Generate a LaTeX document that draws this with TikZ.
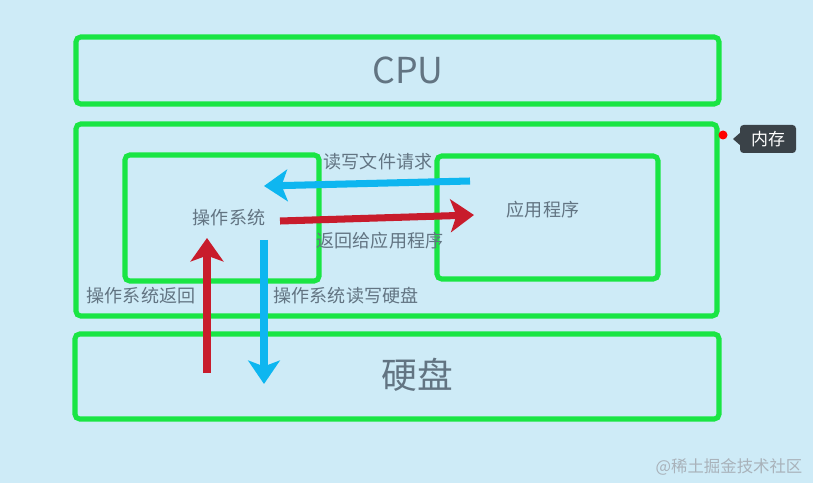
\documentclass[tikz,border=0pt]{standalone}
\usepackage{fontspec}
\setmainfont{Noto Sans CJK SC}
\usetikzlibrary{arrows.meta}
\definecolor{bgblue}{RGB}{206,235,247}
\definecolor{boxgreen}{RGB}{26,229,68}
\definecolor{txtgray}{RGB}{98,116,130}
\definecolor{arrblue}{RGB}{14,182,240}
\definecolor{arrred}{RGB}{200,28,44}
\definecolor{tipdark}{RGB}{58,66,72}
\tikzset{
  box/.style={draw=boxgreen, line width=4.3pt, rounded corners=4pt},
  lbl/.style={text=txtgray, font=\fontsize{15.4}{18}\selectfont, inner sep=0pt},
  big/.style={text=txtgray, font=\fontsize{30.5}{34}\selectfont, inner sep=0pt},
  bluearr/.style={draw=arrblue, line width=6pt, -{Stealth[length=20pt,width=27pt,inset=5pt]}},
  redarr/.style={draw=arrred, line width=6pt, -{Stealth[length=20pt,width=28pt,inset=5pt]}}
}

\begin{document}
\begin{tikzpicture}[x=0.03cm,y=-0.03cm]
			%%%%% START %%%%%
			
			\fill[bgblue] (0,0) rectangle (813,483);
			\useasboundingbox (0,0) rectangle (813,483);
			
			% cpu, memory, disk
			\draw[box] (76,37) rectangle (719,104);
			\node[big] (cpu) at (408,70) {CPU};
			
			\draw[box] (76,124) rectangle (717,316);
			\draw[box] (125,155) rectangle (319,281);
			\draw[box] (437,156) rectangle (658,279);
			
			\draw[box] (75,334) rectangle (719,419);
			\node[big] (disk) at (417,375) {硬盘};
			
			% memory tip
			\fill[red] (723,135) circle (4.5);
			\fill[tipdark, rounded corners=3pt] (740,125) rectangle (796,153);
			\fill[tipdark] (733,139) -- (741,132) -- (741,146) -- cycle;
			\node[lbl, text=white, font=\fontsize{14.5}{16}\selectfont] (mem) at (768,139) {内存};
			
			% labels
			\node[lbl] (os) at (229,218) {操作系统};
			\node[lbl] (app) at (543,210) {应用程序};
			\node[lbl] (req) at (378,162) {读写文件请求};
			\node[lbl] (ret) at (380,241) {返回给应用程序};
			\node[lbl] (osret) at (141,296) {操作系统返回};
			\node[lbl] (osrw) at (346,296) {操作系统读写硬盘};
			
			% arrow ends
			\coordinate (reqA) at (470,181);
			\coordinate (reqB) at (264,186);
			\coordinate (retA) at (280,221);
			\coordinate (retB) at (474,215);
			\coordinate (upA) at (207,373);
			\coordinate (upB) at (207,238);
			\coordinate (downA) at (264,240);
			\coordinate (downB) at (264,384);
			
			\draw[bluearr] (reqA) -- (reqB);
			\draw[redarr] (retA) -- (retB);
			\draw[redarr] (upA) -- (upB);
			\draw[bluearr] (downA) -- (downB);
			
			\node[lbl, text=txtgray!55, font=\fontsize{14}{16}\selectfont] (mark) at (729,467) {@稀土掘金技术社区};
			
			%%%%% END %%%%%
\end{tikzpicture}
\end{document}
